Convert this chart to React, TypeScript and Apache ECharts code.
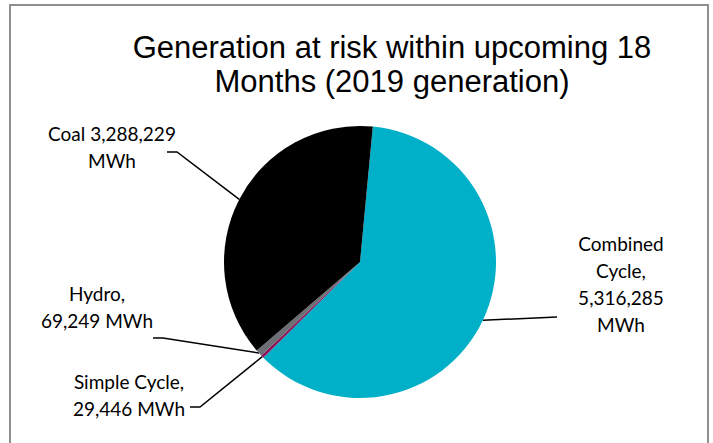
import React, { useEffect, useRef } from "react";
import * as echarts from "echarts";

const titleLines = ["Generation at risk within upcoming 18", "Months (2019 generation)"];
const categories = ["Combined Cycle", "Simple Cycle", "Hydro", "Coal"];
const generationMWh = [5316285, 29446, 69249, 3288229];
const sliceColors = ["#00AFC8", "#8B1459", "#6B6F75", "#000000"];
const labelTemplates = [
  "Combined\nCycle,\n{v}\nMWh",
  "Simple Cycle,\n{v} MWh",
  "Hydro,\n{v} MWh",
  "Coal {v}\nMWh",
];

// label placement (presentation only)
const labelPlacement = [
  { x: 621, y: 284, bend: [557, 317], end: [557, 317] },
  { x: 129, y: 395, bend: [200, 407], end: [190, 407] },
  { x: 97, y: 307, bend: [163, 338], end: [153, 338] },
  { x: 112, y: 147, bend: [177, 152], end: [167, 152] },
];

export default function App() {
  const ref = useRef<HTMLDivElement>(null);
  useEffect(() => {
    if (!ref.current) return;
    const chart = echarts.init(ref.current, undefined, { renderer: "svg" });
    const fmt = (n: number) => n.toLocaleString("en-US");
    chart.setOption({
      animation: false,
      backgroundColor: "#ffffff",
      title: {
        text: titleLines.join("\n"),
        left: 387,
        top: 25,
        textAlign: "center",
        textStyle: {
          fontFamily: "Liberation Sans, Arial, sans-serif",
          fontSize: 31,
          fontWeight: "normal",
          color: "#000",
          lineHeight: 34,
        },
      },
      graphic: [
        {
          type: "rect",
          shape: { x: 10, y: 5, width: 698, height: 460 },
          style: { fill: "none", stroke: "#8f8f8f", lineWidth: 2 },
          silent: true,
        },
      ],
      series: [
        {
          type: "pie",
          center: [360, 262],
          radius: 136,
          startAngle: 84.6,
          clockwise: true,
          avoidLabelOverlap: false,
          itemStyle: { borderWidth: 0 },
          label: {
            show: true,
            position: "outside",
            color: "#000",
            fontFamily: "Lato, Open Sans, sans-serif",
            fontSize: 19,
            lineHeight: 27,
            align: "center",
            formatter: (p: any) => labelTemplates[p.dataIndex].replace("{v}", fmt(p.value)),
          },
          labelLine: {
            show: true,
            length: 10,
            length2: 10,
            lineStyle: { color: "#000", width: 1.5 },
          },
          labelLayout: (params: any) => {
            const pl = labelPlacement[params.dataIndex];
            const start = params.labelLinePoints && params.labelLinePoints[0]
              ? params.labelLinePoints[0]
              : pl.bend;
            return {
              x: pl.x,
              y: pl.y,
              align: "center",
              verticalAlign: "middle",
              labelLinePoints: [start, pl.bend, pl.end],
            };
          },
          data: categories.map((name, i) => ({
            name,
            value: generationMWh[i],
            itemStyle: { color: sliceColors[i] },
          })),
        },
      ],
    });
    return () => chart.dispose();
  }, []);
  return (
    <div
      ref={ref}
      style={{ position: "absolute", left: 0, top: 0, width: 713, height: 443 }}
    />
  );
}
